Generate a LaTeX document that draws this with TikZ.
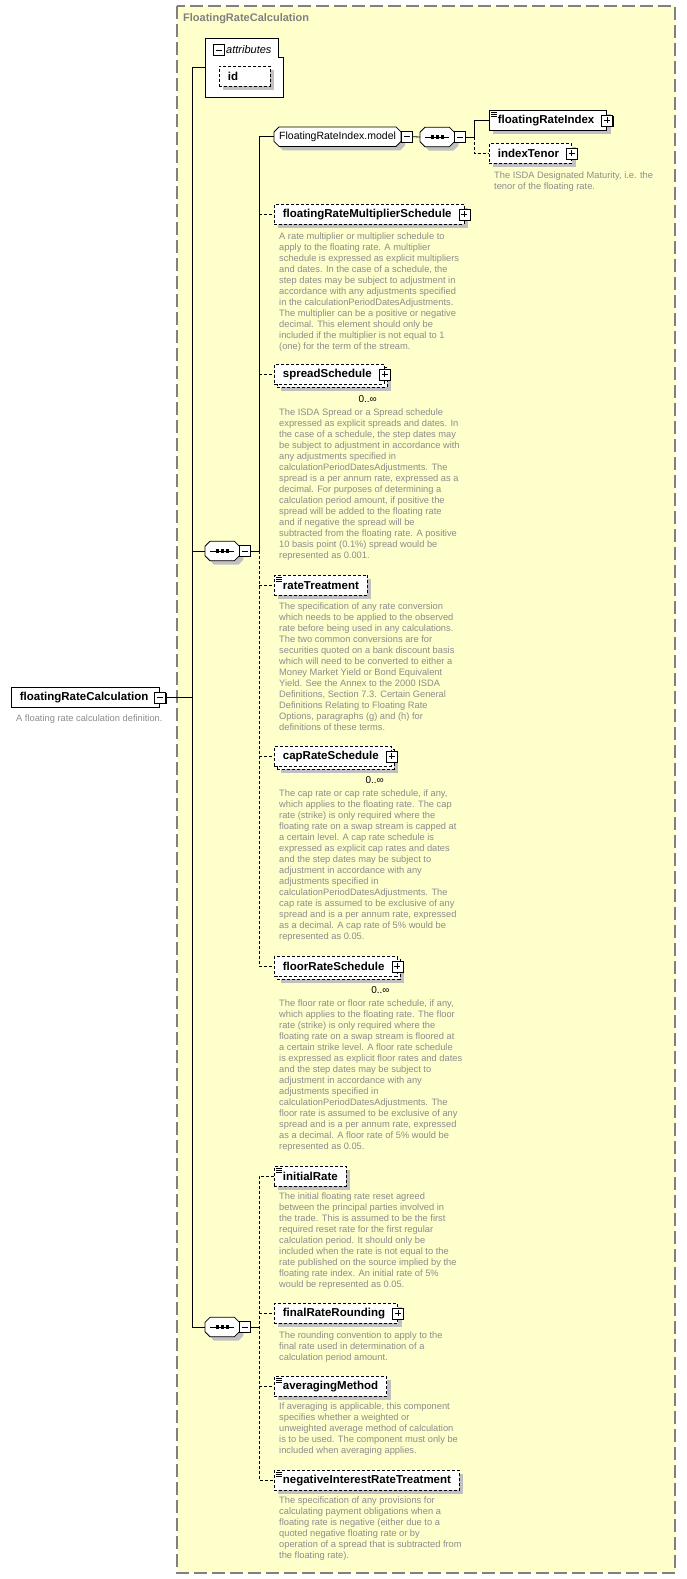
\documentclass[tikz,border=0pt]{standalone}
\usepackage{fontspec}
\setmainfont{Liberation Sans}
\definecolor{boxyellow}{RGB}{255,255,204}
\definecolor{descgray}{RGB}{140,140,140}
\definecolor{shadowgray}{RGB}{192,192,192}
\definecolor{framegray}{RGB}{128,128,128}
\pgfdeclarelayer{bgframe}
\pgfdeclarelayer{bgshape}
\pgfsetlayers{bgframe,bgshape,main}
\newcommand\xsdDoc[1]{\draw[line width=0.6pt] ([xshift=2pt,yshift=-2.5pt]#1.north west) -- ++(6pt,0pt) ([xshift=2pt,yshift=-4.5pt]#1.north west) -- ++(6pt,0pt) ([xshift=2pt,yshift=-6.5pt]#1.north west) -- ++(6pt,0pt);}
\newcommand\xsdOct[1]{\begin{pgfonlayer}{bgshape}
 \draw[line width=0.8pt, fill=white, preaction={fill=shadowgray, transform canvas={shift={(4pt,-4pt)}}}]
 ([xshift=5pt]#1.north west) -- ([xshift=-5pt]#1.north east) -- ([yshift=-5pt]#1.north east) -- ([yshift=5pt]#1.south east)
 -- ([xshift=-5pt]#1.south east) -- ([xshift=5pt]#1.south west) -- ([yshift=5pt]#1.south west) -- ([yshift=-5pt]#1.north west) -- cycle;
 \end{pgfonlayer}}
\newcommand\xsdSeqIcon[1]{\draw[line width=0.8pt] ([xshift=5pt]#1.west) -- ([xshift=-5pt]#1.east);
 \foreach \dx in {-5,0,5} \fill ([xshift=\dx pt]#1.center) +(-1.6pt,-1.6pt) rectangle +(1.6pt,1.6pt);}
\tikzset{
 conn/.style={line width=0.8pt},
 optl/.style={dash pattern=on 3pt off 2pt},
 shadowed/.style={preaction={fill=shadowgray, transform canvas={shift={(4pt,-4pt)}}}},
 multi/.style={preaction={fill=shadowgray, transform canvas={shift={(7pt,-7pt)}}},
   preaction={draw, line width=0.8pt, dash pattern=on 3pt off 2pt, fill=white, transform canvas={shift={(3pt,-3pt)}}}},
 elem/.style={draw, fill=white, anchor=north west, minimum height=20pt, inner xsep=8.5pt, inner ysep=0pt, line width=0.8pt, font=\fontsize{11.5}{13}\selectfont\bfseries},
 grp/.style={rectangle, minimum height=19pt, inner xsep=5pt, inner ysep=0pt, font=\fontsize{10.5}{12}\selectfont},
 seq/.style={grp, minimum width=34pt},
 pmbase/.style={draw, fill=white, minimum size=11pt, inner sep=0pt, line width=0.8pt, preaction={fill=black, transform canvas={shift={(0.8pt,-0.8pt)}}}},
 pbox/.style={pmbase, path picture={\draw[line width=0.9pt] ([xshift=2.5pt]path picture bounding box.west) -- ([xshift=-2.5pt]path picture bounding box.east) ([yshift=-2.5pt]path picture bounding box.north) -- ([yshift=2.5pt]path picture bounding box.south);}},
 mbox/.style={pmbase, path picture={\draw[line width=0.9pt] ([xshift=2.5pt]path picture bounding box.west) -- ([xshift=-2.5pt]path picture bounding box.east);}},
 desc/.style={anchor=north west, inner sep=0pt, align=left, text=descgray, font=\fontsize{9.3}{11}\selectfont},
 occ/.style={inner sep=0pt, font=\fontsize{10}{12}\selectfont},
}
\begin{document}
\begin{tikzpicture}[x=1pt,y=-1pt]
\useasboundingbox (0,0) rectangle (686,1579);
\begin{pgfonlayer}{bgframe}
\fill[white] (0,0) rectangle (686,1579);
\draw[framegray, line width=1.2pt, dash pattern=on 13pt off 5pt, fill=boxyellow] (177,6) rectangle (675,1573);
\end{pgfonlayer}
\node[anchor=west, inner sep=0pt, text=framegray, font=\fontsize{11}{13}\selectfont\bfseries] (title) at (183,19) {FloatingRateCalculation};

% attributes
\node[anchor=north west, minimum width=78pt, minimum height=59pt, inner sep=0pt] (attr) at (205,38) {};
\draw[line width=0.8pt, fill=white] (attr.south west) -- (attr.north west) -- ([xshift=-5pt]attr.north east) -- ([xshift=-5pt,yshift=-19pt]attr.north east) -- ([yshift=-19pt]attr.north east) -- (attr.south east) -- cycle;
\node[mbox] (attrpm) at (218.5,50) {};
\node[anchor=west, inner sep=0pt, font=\fontsize{11}{13}\selectfont\itshape] (attrlbl) at (226,50) {attributes};
\node[elem, optl, shadowed, text width=34pt, align=left] (id) at (219,66) {id};

% main element
\node[elem] (main) at (11,687) {floatingRateCalculation\hspace*{3pt}};
\node[mbox] (mainpm) at (main.east) {};
\node[desc] (maindesc) at (16,715) {A floating rate calculation definition.};

% FloatingRateIndex.model
\node[grp, anchor=north west] (model) at (274,127) {FloatingRateIndex.model};
\xsdOct{model}
\node[mbox, anchor=west] (modelpm) at ([xshift=-0.5pt]model.east) {};
\node[seq, anchor=west] (seq3) at (420,137) {};
\xsdOct{seq3}
\xsdSeqIcon{seq3}
\node[mbox, anchor=west] (seq3pm) at ([xshift=-0.5pt]seq3.east) {};
\node[elem, shadowed] (fri) at (489,110) {floatingRateIndex\hspace*{4pt}};
\node[pbox] (fripm) at (fri.east) {};
\xsdDoc{fri}
\node[elem, optl, shadowed] (it) at (489,143) {indexTenor\hspace*{4pt}};
\node[pbox] (itpm) at (it.east) {};
\node[desc] (itdesc) at (494,171.5) {The ISDA Designated Maturity, i.e. the\\tenor of the floating rate.};

% sequence 1 children
\node[seq, anchor=west] (seq1) at (205,551) {};
\xsdOct{seq1}
\xsdSeqIcon{seq1}
\node[mbox, anchor=west] (seq1pm) at ([xshift=-0.5pt]seq1.east) {};

\node[elem, optl, shadowed] (frms) at (274,204) {floatingRateMultiplierSchedule\hspace*{4pt}};
\node[pbox] (frmspm) at (frms.east) {};
\node[desc] (frmsdesc) at (279,232.5) {A rate multiplier or multiplier schedule to\\apply to the floating rate. A multiplier\\schedule is expressed as explicit multipliers\\and dates. In the case of a schedule, the\\step dates may be subject to adjustment in\\accordance with any adjustments specified\\in the calculationPeriodDatesAdjustments.\\The multiplier can be a positive or negative\\decimal. This element should only be\\included if the multiplier is not equal to 1\\(one) for the term of the stream.};

\node[elem, optl, multi] (spread) at (274,364) {spreadSchedule\hspace*{4pt}};
\node[pbox] (spreadpm) at (spread.east) {};
\node[occ] (spreadocc) at ([xshift=-17pt,yshift=-14pt]spread.south east) {0..∞};
\node[desc] (spreaddesc) at (279,408.5) {The ISDA Spread or a Spread schedule\\expressed as explicit spreads and dates. In\\the case of a schedule, the step dates may\\be subject to adjustment in accordance with\\any adjustments specified in\\calculationPeriodDatesAdjustments. The\\spread is a per annum rate, expressed as a\\decimal. For purposes of determining a\\calculation period amount, if positive the\\spread will be added to the floating rate\\and if negative the spread will be\\subtracted from the floating rate. A positive\\10 basis point (0.1\%) spread would be\\represented as 0.001.};

\node[elem, optl, shadowed] (rt) at (274,575) {rateTreatment};
\xsdDoc{rt}
\node[desc] (rtdesc) at (279,602.5) {The specification of any rate conversion\\which needs to be applied to the observed\\rate before being used in any calculations.\\The two common conversions are for\\securities quoted on a bank discount basis\\which will need to be converted to either a\\Money Market Yield or Bond Equivalent\\Yield. See the Annex to the 2000 ISDA\\Definitions, Section 7.3. Certain General\\Definitions Relating to Floating Rate\\Options, paragraphs (g) and (h) for\\definitions of these terms.};

\node[elem, optl, multi] (cap) at (274,746) {capRateSchedule\hspace*{4pt}};
\node[pbox] (cappm) at (cap.east) {};
\node[occ] (capocc) at ([xshift=-17pt,yshift=-13pt]cap.south east) {0..∞};
\node[desc] (capdesc) at (279,789.5) {The cap rate or cap rate schedule, if any,\\which applies to the floating rate. The cap\\rate (strike) is only required where the\\floating rate on a swap stream is capped at\\a certain level. A cap rate schedule is\\expressed as explicit cap rates and dates\\and the step dates may be subject to\\adjustment in accordance with any\\adjustments specified in\\calculationPeriodDatesAdjustments. The\\cap rate is assumed to be exclusive of any\\spread and is a per annum rate, expressed\\as a decimal. A cap rate of 5\% would be\\represented as 0.05.};

\node[elem, optl, multi] (floor) at (274,956) {floorRateSchedule\hspace*{4pt}};
\node[pbox] (floorpm) at (floor.east) {};
\node[occ] (floorocc) at ([xshift=-17pt,yshift=-13pt]floor.south east) {0..∞};
\node[desc] (floordesc) at (279,999.5) {The floor rate or floor rate schedule, if any,\\which applies to the floating rate. The floor\\rate (strike) is only required where the\\floating rate on a swap stream is floored at\\a certain strike level. A floor rate schedule\\is expressed as explicit floor rates and dates\\and the step dates may be subject to\\adjustment in accordance with any\\adjustments specified in\\calculationPeriodDatesAdjustments. The\\floor rate is assumed to be exclusive of any\\spread and is a per annum rate, expressed\\as a decimal. A floor rate of 5\% would be\\represented as 0.05.};

% sequence 2 children
\node[seq, anchor=west] (seq2) at (205,1327) {};
\xsdOct{seq2}
\xsdSeqIcon{seq2}
\node[mbox, anchor=west] (seq2pm) at ([xshift=-0.5pt]seq2.east) {};

\node[elem, optl, shadowed] (ir) at (274,1166) {initialRate};
\xsdDoc{ir}
\node[desc] (irdesc) at (279,1192.5) {The initial floating rate reset agreed\\between the principal parties involved in\\the trade. This is assumed to be the first\\required reset rate for the first regular\\calculation period. It should only be\\included when the rate is not equal to the\\rate published on the source implied by the\\floating rate index. An initial rate of 5\%\\would be represented as 0.05.};

\node[elem, optl, shadowed] (frr) at (274,1303) {finalRateRounding\hspace*{4pt}};
\node[pbox] (frrpm) at (frr.east) {};
\node[desc] (frrdesc) at (279,1331.5) {The rounding convention to apply to the\\final rate used in determination of a\\calculation period amount.};

\node[elem, optl, shadowed] (am) at (274,1376) {averagingMethod};
\xsdDoc{am}
\node[desc] (amdesc) at (279,1402.5) {If averaging is applicable, this component\\specifies whether a weighted or\\unweighted average method of calculation\\is to be used. The component must only be\\included when averaging applies.};

\node[elem, optl, shadowed] (nirt) at (274,1470) {negativeInterestRateTreatment};
\xsdDoc{nirt}
\node[desc] (nirtdesc) at (279,1496.5) {The specification of any provisions for\\calculating payment obligations when a\\floating rate is negative (either due to a\\quoted negative floating rate or by\\operation of a spread that is subtracted from\\the floating rate).};

% connectors
\coordinate (bus1) at (192,0);
\coordinate (bus2) at (259,0);
\coordinate (bus3) at (474,0);
\draw[conn] (mainpm.east) -- (mainpm.east -| bus1);
\draw[conn] (attr.west) -- (attr.west -| bus1) -- (seq2.west -| bus1) -- (seq2.west);
\draw[conn] (seq1.west -| bus1) -- (seq1.west);
\draw[conn] (seq1pm.east) -- (seq1pm.east -| bus2);
\draw[conn] (model.west) -- (model.west -| bus2) -- (seq1pm.east -| bus2);
\draw[conn, optl] (seq1pm.east -| bus2) -- (floor.west -| bus2) -- (floor.west);
\foreach \n in {frms,spread,rt,cap} \draw[conn, optl] (\n.west -| bus2) -- (\n.west);
\draw[conn] (seq2pm.east) -- (seq2pm.east -| bus2);
\draw[conn, optl] (ir.west) -- (ir.west -| bus2) -- (nirt.west -| bus2) -- (nirt.west);
\foreach \n in {frr,am} \draw[conn, optl] (\n.west -| bus2) -- (\n.west);
\draw[conn] (modelpm.east) -- (seq3.west);
\draw[conn] (seq3pm.east) -- (seq3pm.east -| bus3);
\draw[conn] (fri.west) -- (fri.west -| bus3) -- (seq3pm.east -| bus3);
\draw[conn, optl] (seq3pm.east -| bus3) -- (it.west -| bus3) -- (it.west);
\end{tikzpicture}
\end{document}
